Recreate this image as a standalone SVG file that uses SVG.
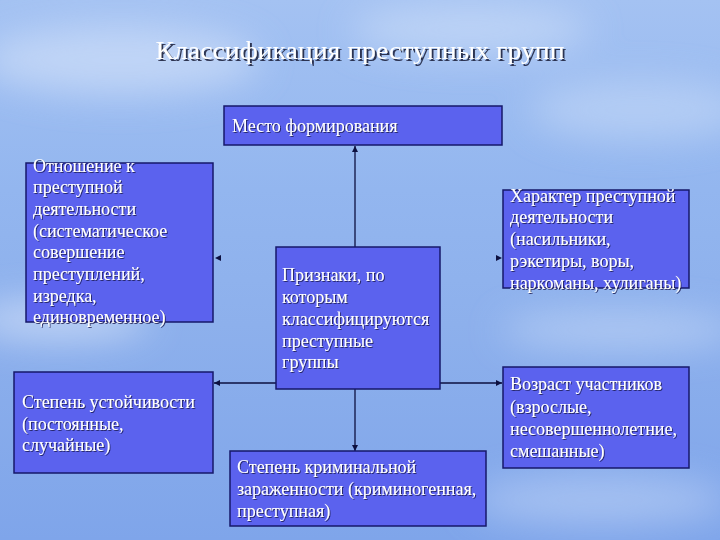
<svg xmlns="http://www.w3.org/2000/svg" width="720" height="540" viewBox="0 0 720 540">
<defs>
<linearGradient id="sky" x1="0" y1="0" x2="0" y2="1">
<stop offset="0" stop-color="#a4c2f2"/>
<stop offset="0.35" stop-color="#93b6ef"/>
<stop offset="0.6" stop-color="#8db0ec"/>
<stop offset="1" stop-color="#7fa5ea"/>
</linearGradient>
<filter id="blur" x="-50%" y="-50%" width="200%" height="200%"><feGaussianBlur stdDeviation="18"/></filter>
<filter id="sh" x="-10%" y="-30%" width="120%" height="160%"><feDropShadow dx="1" dy="1" stdDeviation="0.4" flood-color="#1a1a50" flood-opacity="0.8"/></filter>
<filter id="tsh" x="-10%" y="-30%" width="120%" height="160%"><feDropShadow dx="2" dy="2" stdDeviation="0.6" flood-color="#1a2040" flood-opacity="0.9"/></filter>
<marker id="arr" viewBox="0 0 10 10" refX="10" refY="5" markerWidth="6" markerHeight="6" orient="auto" markerUnits="userSpaceOnUse">
<path d="M0,0 L10,5 L0,10 z" fill="#0d1040"/>
</marker>
<style>
.box{fill:#5b62ee;stroke:#16186a;stroke-width:1.5}
.t{font-family:"Liberation Serif","Times New Roman",serif;font-size:18px;fill:#ffffff;filter:url(#sh)}
.ln{stroke:#0d1040;stroke-width:1.3;fill:none}
</style>
</defs>
<rect width="720" height="540" fill="url(#sky)"/>
<g opacity="0.55" filter="url(#blur)">
<ellipse cx="120" cy="60" rx="140" ry="35" fill="#dbe7fb"/>
<ellipse cx="470" cy="30" rx="120" ry="25" fill="#d4e3fa"/>
<ellipse cx="640" cy="110" rx="110" ry="30" fill="#c8dbf8"/>
<ellipse cx="60" cy="320" rx="90" ry="20" fill="#e8f0fd"/>
<ellipse cx="620" cy="330" rx="120" ry="18" fill="#cfe0fa"/>
<ellipse cx="600" cy="500" rx="130" ry="25" fill="#c2d6f7"/>
</g>
<text x="360" y="59" text-anchor="middle" font-family="Liberation Serif,'Times New Roman',serif" font-size="25" fill="#ffffff" filter="url(#tsh)" textLength="409" lengthAdjust="spacingAndGlyphs">Классификация преступных групп</text>
<g id="connectors">
<line class="ln" x1="355" y1="247" x2="355" y2="146" marker-end="url(#arr)"/>
<line class="ln" x1="355" y1="389" x2="355" y2="451" marker-end="url(#arr)"/>
<line class="ln" x1="276" y1="383" x2="214" y2="383" marker-end="url(#arr)"/>
<line class="ln" x1="440" y1="383" x2="502" y2="383" marker-end="url(#arr)"/>
<line x1="222" y1="258" x2="215" y2="258" stroke="none" marker-end="url(#arr)"/>
<line x1="495" y1="258" x2="502" y2="258" stroke="none" marker-end="url(#arr)"/>
</g>
<g id="top">
<rect class="box" x="224" y="106" width="278" height="39"/>
<text class="t" x="232" y="132">Место формирования</text>
</g>
<g id="left-top">
<rect class="box" x="26" y="163" width="187" height="159"/>
<text class="t"><tspan x="33" y="172">Отношение к</tspan><tspan x="33" y="193">преступной</tspan><tspan x="33" y="215">деятельности</tspan><tspan x="33" y="237">(систематическое</tspan><tspan x="33" y="258">совершение</tspan><tspan x="33" y="280">преступлений,</tspan><tspan x="33" y="302">изредка,</tspan><tspan x="33" y="323">единовременное)</tspan></text>
</g>
<g id="right-top">
<rect class="box" x="503" y="190" width="186" height="98"/>
<text class="t"><tspan x="510" y="202">Характер преступной</tspan><tspan x="510" y="223">деятельности</tspan><tspan x="510" y="245">(насильники,</tspan><tspan x="510" y="267">рэкетиры, воры,</tspan><tspan x="510" y="289">наркоманы, хулиганы)</tspan></text>
</g>
<g id="center">
<rect class="box" x="276" y="247" width="164" height="142"/>
<text class="t"><tspan x="282" y="281">Признаки, по</tspan><tspan x="282" y="303">которым</tspan><tspan x="282" y="325">классифицируются</tspan><tspan x="282" y="347">преступные</tspan><tspan x="282" y="368">группы</tspan></text>
</g>
<g id="left-bottom">
<rect class="box" x="14" y="372" width="199" height="101"/>
<text class="t"><tspan x="22" y="408">Степень устойчивости</tspan><tspan x="22" y="430">(постоянные,</tspan><tspan x="22" y="451">случайные)</tspan></text>
</g>
<g id="right-bottom">
<rect class="box" x="503" y="367" width="186" height="101"/>
<text class="t"><tspan x="510" y="390">Возраст участников</tspan><tspan x="510" y="413">(взрослые,</tspan><tspan x="510" y="435">несовершеннолетние,</tspan><tspan x="510" y="457">смешанные)</tspan></text>
</g>
<g id="bottom">
<rect class="box" x="230" y="451" width="256" height="75"/>
<text class="t"><tspan x="237" y="473">Степень криминальной</tspan><tspan x="237" y="495">зараженности (криминогенная,</tspan><tspan x="237" y="517">преступная)</tspan></text>
</g>
</svg>
